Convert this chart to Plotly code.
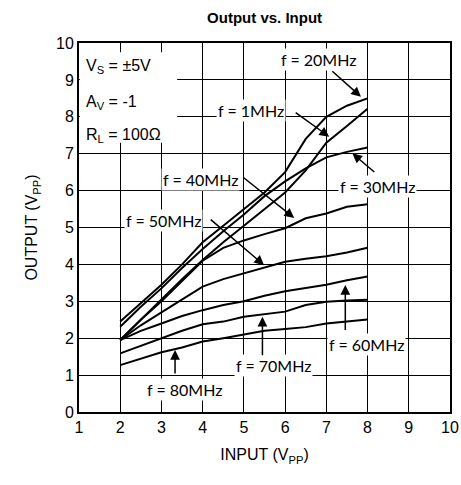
import plotly.graph_objects as go

# ---------------- data ----------------
input_vpp = [2, 2.5, 3, 3.5, 4, 4.5, 5, 5.5, 6, 6.5, 7, 7.5, 8]
out_1mhz  = [1.95, 2.5, 3.05, 3.6, 4.12, 4.6, 5.05, 5.5, 5.95, 6.55, 7.3, 7.75, 8.22]
out_20mhz = [2.45, 2.95, 3.45, 4.0, 4.6, 5.05, 5.5, 5.95, 6.5, 7.4, 8.0, 8.3, 8.5]
out_30mhz = [2.31, 2.85, 3.35, 3.9, 4.42, 4.9, 5.35, 5.85, 6.25, 6.6, 6.9, 7.05, 7.17]
out_40mhz = [1.95, 2.5, 3.0, 3.55, 4.1, 4.45, 4.65, 4.82, 4.98, 5.25, 5.38, 5.56, 5.63]
out_50mhz = [1.95, 2.35, 2.7, 3.05, 3.4, 3.6, 3.75, 3.9, 4.07, 4.15, 4.22, 4.32, 4.45]
out_60mhz = [1.95, 2.2, 2.4, 2.6, 2.76, 2.9, 3.0, 3.15, 3.27, 3.35, 3.45, 3.57, 3.67]
out_70mhz = [1.59, 1.8, 2.0, 2.2, 2.38, 2.45, 2.58, 2.65, 2.72, 2.9, 2.99, 3.02, 3.04]
out_80mhz = [1.27, 1.45, 1.62, 1.75, 1.91, 2.0, 2.1, 2.2, 2.25, 2.3, 2.4, 2.45, 2.51]

series = [
    ("f = 1MHz", out_1mhz),
    ("f = 20MHz", out_20mhz),
    ("f = 30MHz", out_30mhz),
    ("f = 40MHz", out_40mhz),
    ("f = 50MHz", out_50mhz),
    ("f = 60MHz", out_60mhz),
    ("f = 70MHz", out_70mhz),
    ("f = 80MHz", out_80mhz),
]

x_ticks = list(range(1, 11))
y_ticks = list(range(0, 11))

fig = go.Figure()
for name, ys in series:
    fig.add_trace(go.Scatter(x=input_vpp, y=ys, mode="lines", name=name,
                             line=dict(color="black", width=2), showlegend=False))

LAB_FONT = dict(family="Lato, Open Sans, sans-serif", size=16, color="black")
AR = "Liberation Sans, Arial, sans-serif"
AR_FONT = dict(family=AR, size=16, color="black")

# label text: (text, x, y)
labels = [
    ("f = 20MHz", 6.8, 9.54),
    ("f = 1MHz", 5.17, 8.16),
    ("f = 30MHz", 8.23, 6.12),
    ("f = 40MHz", 3.94, 6.31),
    ("f = 50MHz", 3.04, 5.2),
    ("f = 60MHz", 7.97, 1.84),
    ("f = 70MHz", 5.71, 1.25),
    ("f = 80MHz", 3.57, 0.6),
]
# arrows: (tail x, tail y, head x, head y)
arrows = [
    (7.11, 9.27, 7.84, 8.54),
    (6.22, 8.14, 7.07, 7.46),
    (8.2, 6.47, 7.63, 7.01),
    (4.96, 6.38, 6.22, 5.26),
    (4.16, 5.25, 5.49, 3.98),
    (7.46, 2.18, 7.46, 3.44),
    (5.45, 1.5, 5.45, 2.58),
    (3.33, 1.0, 3.33, 1.68),
]

annotations = []
for t, x, y in labels:
    annotations.append(dict(text=t, x=x, y=y, xref="x", yref="y", showarrow=False,
                            font=LAB_FONT, bgcolor="white", borderpad=1))
for tx, ty, hx, hy in arrows:
    annotations.append(dict(text="", x=hx, y=hy, ax=tx, ay=ty, xref="x", yref="y",
                            axref="x", ayref="y", showarrow=True, arrowhead=2,
                            arrowsize=1.3, arrowwidth=1.5, arrowcolor="black"))

cond = [("V<sub>S</sub> = ±5V", 9.35), ("A<sub>V</sub> = -1", 8.4), ("R<sub>L</sub> = 100Ω", 7.5)]
for t, y in cond:
    annotations.append(dict(text=t, x=1.13, y=y, xref="x", yref="y", xanchor="left",
                            showarrow=False, font=AR_FONT))

fig.update_layout(
    width=461, height=485,
    margin=dict(l=79, r=11, t=43, b=73),
    paper_bgcolor="white", plot_bgcolor="white",
    title=dict(text="<b>Output vs. Input</b>", x=0.574, xanchor="center",
               yref="container", y=0.963, yanchor="middle",
               font=dict(family=AR, size=15, color="black")),
    annotations=annotations,
    shapes=[dict(type="rect", xref="x", yref="y", x0=1.02, x1=3.38, y0=7.3, y1=9.75,
                 fillcolor="white", line=dict(width=0), layer="between")],
)
fig.update_xaxes(range=[1, 10], tickvals=x_ticks, showgrid=True, gridcolor="black",
                 gridwidth=1.3, showline=True, linecolor="black", linewidth=2, mirror=True,
                 zeroline=False, ticks="", automargin=False,
                 tickfont=dict(family=AR, size=16, color="black"),
                 title=dict(text="INPUT (V<sub>PP</sub>)", standoff=14,
                            font=dict(family=AR, size=16, color="black")))
fig.update_yaxes(range=[0, 10], tickvals=y_ticks, showgrid=True, gridcolor="black",
                 gridwidth=1.3, showline=True, linecolor="black", linewidth=2, mirror=True,
                 zeroline=False, ticks="", automargin=False,
                 tickfont=dict(family=AR, size=16, color="black"),
                 title=dict(text="OUTPUT (V<sub>PP</sub>)", standoff=14,
                            font=dict(family=AR, size=16, color="black")))

fig.write_html("out.html", config={"displayModeBar": False},
               post_script="document.body.style.margin='0';document.body.style.overflow='hidden';")
